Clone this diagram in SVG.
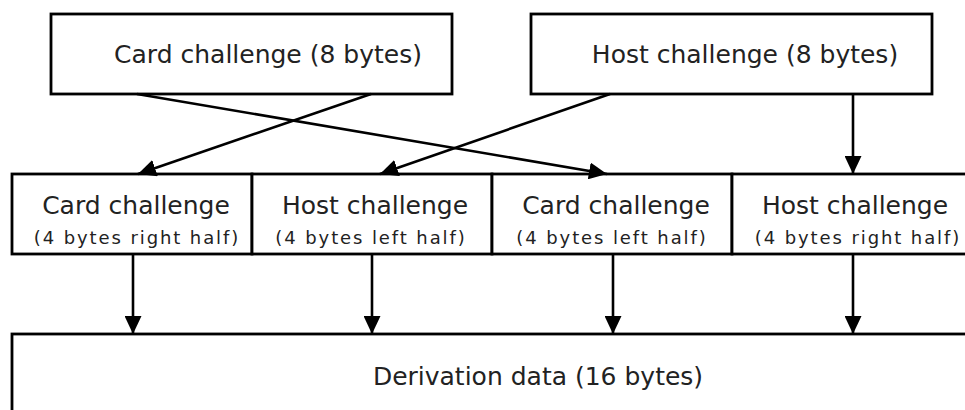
<svg xmlns="http://www.w3.org/2000/svg" width="965" height="410" viewBox="0 0 965 410">
<style>
.box{fill:#fff;stroke:#000;stroke-width:2.8}
.t{font-family:"DejaVu Sans",sans-serif;font-size:25px;fill:#222;text-anchor:middle}
.s{font-family:"DejaVu Sans",sans-serif;font-size:18px;letter-spacing:1.9px;fill:#222;text-anchor:middle}
.c{stroke:#000;stroke-width:2.6;fill:none;marker-end:url(#ah)}
</style>
<defs>
<marker id="ah" markerUnits="userSpaceOnUse" markerWidth="19" markerHeight="17" refX="18" refY="8.5" orient="auto" viewBox="0 0 19 17">
<path d="M0,0 L18,8.5 L0,17 z" fill="#000"/>
</marker>
</defs>
<rect width="965" height="410" fill="#fff"/>
<g id="card8"><rect class="box" x="51" y="14" width="401" height="80"/><text class="t" x="268" y="63">Card challenge (8 bytes)</text></g>
<g id="host8"><rect class="box" x="531" y="14" width="401" height="80"/><text class="t" x="745" y="63">Host challenge (8 bytes)</text></g>
<g id="cardR"><rect class="box" x="12" y="174" width="240" height="80"/><text class="t" x="136" y="214">Card challenge</text><text class="s" x="137" y="244">(4 bytes right half)</text></g>
<g id="hostL"><rect class="box" x="252" y="174" width="240" height="80"/><text class="t" x="375" y="214">Host challenge</text><text class="s" x="371" y="244">(4 bytes left half)</text></g>
<g id="cardL"><rect class="box" x="492" y="174" width="240" height="80"/><text class="t" x="616" y="214">Card challenge</text><text class="s" x="612" y="244">(4 bytes left half)</text></g>
<g id="hostR"><rect class="box" x="732" y="174" width="240" height="80"/><text class="t" x="855" y="214">Host challenge</text><text class="s" x="858" y="244">(4 bytes right half)</text></g>
<g id="deriv"><rect class="box" x="12" y="334" width="1000" height="100"/><text class="t" x="538" y="385">Derivation data (16 bytes)</text></g>
<g id="connectors">
<line class="c" x1="371" y1="94" x2="138" y2="174"/>
<line class="c" x1="137" y1="94" x2="607" y2="174"/>
<line class="c" x1="610" y1="94" x2="380" y2="174"/>
<line class="c" x1="853" y1="94" x2="853" y2="174"/>
<line class="c" x1="133" y1="254" x2="133" y2="334"/>
<line class="c" x1="372" y1="254" x2="372" y2="334"/>
<line class="c" x1="613" y1="254" x2="613" y2="334"/>
<line class="c" x1="853" y1="254" x2="853" y2="334"/>
</g>
</svg>
